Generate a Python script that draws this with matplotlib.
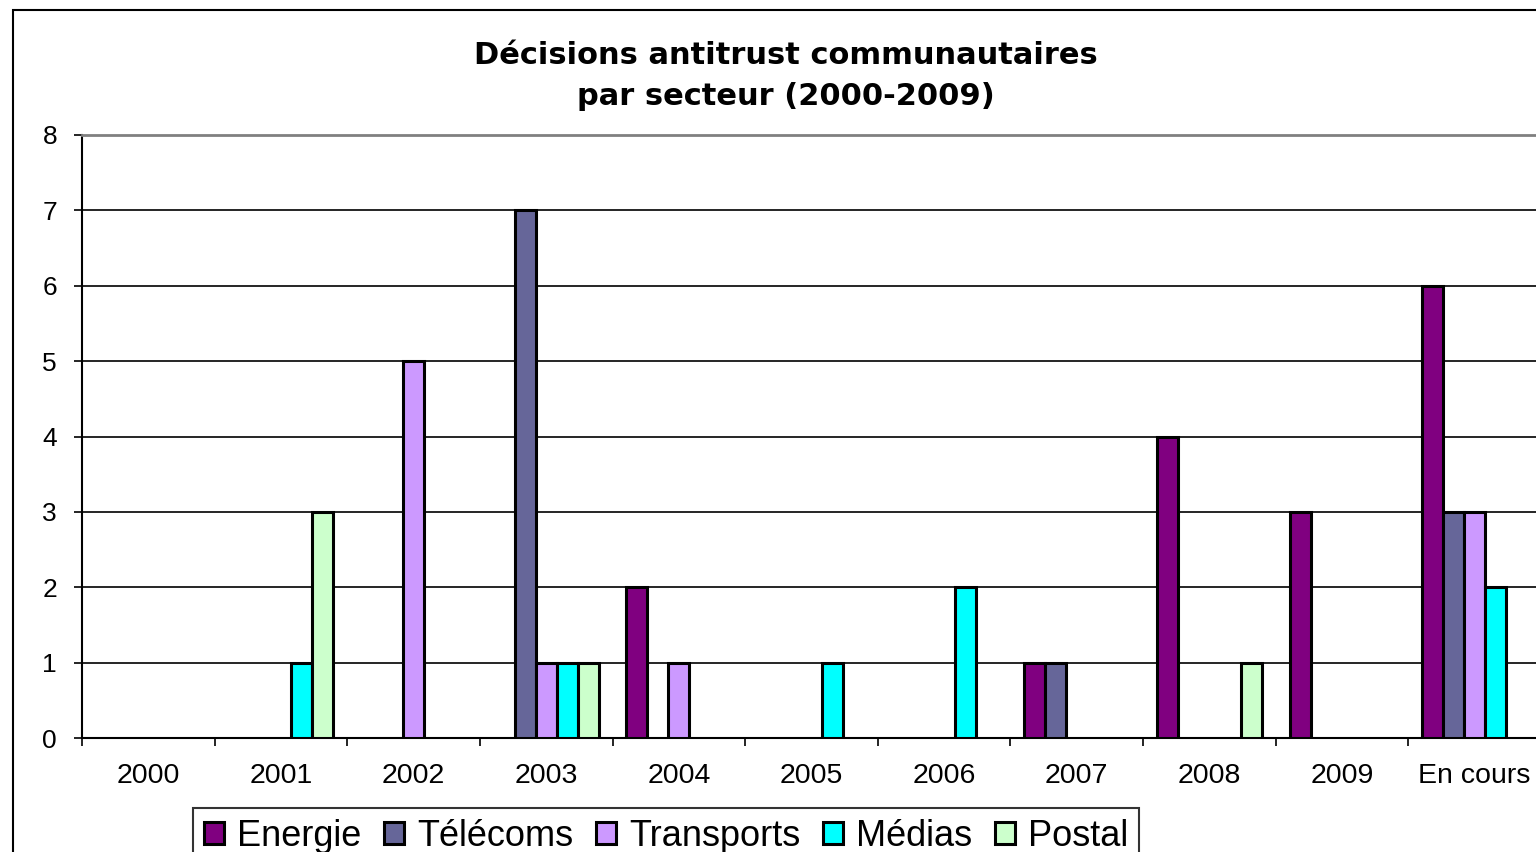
import matplotlib
matplotlib.use("Agg")
import matplotlib.pyplot as plt
import numpy as np
from matplotlib.patches import Rectangle

# Décisions par année et par secteur
categories = ["2000", "2001", "2002", "2003", "2004", "2005",
              "2006", "2007", "2008", "2009", "En cours"]
secteurs = ["Energie", "Télécoms", "Transports", "Médias", "Postal"]
energie    = [0, 0, 0, 0, 2, 0, 0, 1, 4, 3, 6]
telecoms   = [0, 0, 0, 7, 0, 0, 0, 1, 0, 0, 3]
transports = [0, 0, 5, 1, 1, 0, 0, 0, 0, 0, 3]
medias     = [0, 1, 0, 1, 0, 1, 2, 0, 0, 0, 2]
postal     = [0, 3, 0, 1, 0, 0, 0, 0, 1, 0, 0]
couleurs = ["#800080", "#666699", "#CC99FF", "#00FFFF", "#CCFFCC"]

W, H = 1536, 852
fig = plt.figure(figsize=(W / 100, H / 100), dpi=100)

# cadre du graphique
fig.patches.append(Rectangle((13 / W, -0.1), 2.0, 1.1 - 10 / H,
                             transform=fig.transFigure, fill=False,
                             edgecolor="black", linewidth=1.5, zorder=0))

ax = fig.add_axes([82 / W, 1 - 738 / H, (1541 - 82) / W, (738 - 135) / H])

x = np.arange(len(categories))
w = 0.158
series = [energie, telecoms, transports, medias, postal]
for i, (vals, nom, c) in enumerate(zip(series, secteurs, couleurs)):
    v = np.array(vals, dtype=float)
    # barres nulles masquées
    v_plot = np.where(v > 0, v, np.nan)
    ax.bar(x + (i - 2) * w, v_plot, width=w, color=c, edgecolor="black",
           linewidth=2.2, label=nom, zorder=3)

ax.set_xlim(-0.5, len(categories) - 0.5)
ax.set_ylim(0, 8)
ax.set_yticks(range(9))
ax.yaxis.grid(True, color="black", linewidth=1.2, zorder=0)
ax.tick_params(axis="y", direction="out", length=6, width=1.2, pad=12,
               labelsize=19)
for lab in ax.get_yticklabels():
    lab.set_fontfamily("Liberation Sans")

# graduations entre catégories, libellés au centre
ax.set_xticks(np.arange(-0.5, len(categories), 1.0))
ax.set_xticklabels([])
ax.tick_params(axis="x", which="major", direction="out", length=6, width=1.2)
ax.set_xticks(x, minor=True)
ax.set_xticklabels(categories, minor=True, fontfamily="Liberation Sans",
                   fontsize=20.5)
ax.tick_params(axis="x", which="minor", length=0, pad=18)

ax.spines["right"].set_visible(False)
ax.spines["top"].set_color("#808080")
ax.spines["top"].set_linewidth(2)
ax.spines["left"].set_linewidth(1.5)
ax.spines["bottom"].set_linewidth(1.5)

fig.text(786 / W, 1 - 76 / H,
         "Décisions antitrust communautaires\npar secteur (2000-2009)",
         ha="center", va="center", fontsize=22, fontweight="bold",
         family="DejaVu Sans", linespacing=1.55)

leg = fig.legend(loc="upper left", bbox_to_anchor=(193 / W, 1 - 808 / H),
                 ncol=5, frameon=True, fancybox=False, shadow=False,
                 prop={"family": "Liberation Sans", "size": 26},
                 handlelength=0.55, handleheight=0.55, handletextpad=0.36,
                 columnspacing=0.64, borderpad=0.3, borderaxespad=0)
leg.get_frame().set_edgecolor("black")
leg.get_frame().set_linewidth(1.5)

fig.savefig("out.png", dpi=100)
